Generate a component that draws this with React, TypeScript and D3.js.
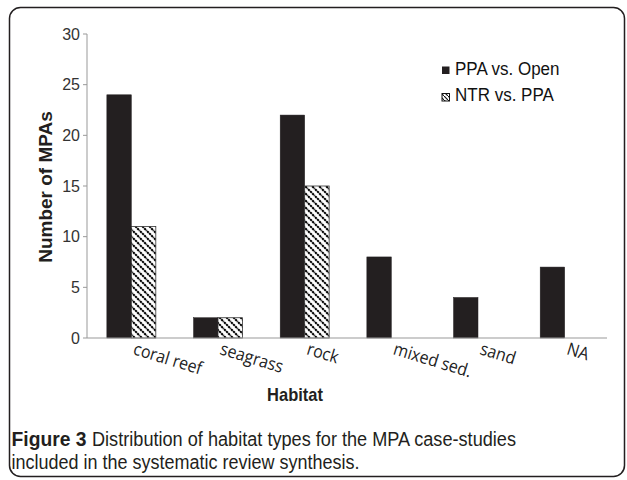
import React from "react";
import * as d3 from "d3";

const categories = ["coral reef", "seagrass", "rock", "mixed sed.", "sand", "NA"];
const ppaVsOpen = [24, 2, 22, 8, 4, 7];
const ntrVsPpa: (number | null)[] = [11, 2, 15, null, null, null];
const seriesNames = ["PPA vs. Open", "NTR vs. PPA"];
const yTicks = [0, 5, 10, 15, 20, 25, 30];

const W = 627;
const H = 480;
const plot = { left: 87, right: 607, top: 34, bottom: 338 };
const barColor = "#231f20";

export default function App() {
  const x = d3.scaleBand<string>().domain(categories).range([plot.left + 1, plot.right + 1]).padding(0);
  const inner = d3
    .scaleBand<string>()
    .domain(seriesNames)
    .range([0, x.bandwidth()])
    .paddingInner(0)
    .paddingOuter(0.77);
  const y = d3.scaleLinear().domain([0, 30]).range([plot.bottom, plot.top]);

  const bars: { key: string; x: number; y: number; w: number; h: number; hatched: boolean }[] = [];
  categories.forEach((c, i) => {
    const v1 = ppaVsOpen[i];
    const x0 = (x(c) ?? 0) + (inner(seriesNames[0]) ?? 0);
    bars.push({ key: c + "a", x: x0, y: y(v1), w: inner.bandwidth(), h: y(0) - y(v1), hatched: false });
    const v2 = ntrVsPpa[i];
    if (v2 != null) {
      const x1 = (x(c) ?? 0) + (inner(seriesNames[1]) ?? 0);
      bars.push({ key: c + "b", x: x1, y: y(v2), w: inner.bandwidth(), h: y(0) - y(v2), hatched: true });
    }
  });

  const capFont = "'Liberation Sans', Arial, sans-serif";

  return (
    <svg
      width={W}
      height={H}
      viewBox={`0 0 ${W} ${H}`}
      style={{ position: "absolute", left: 0, top: 0, background: "#fff" }}
    >
      <defs>
        <pattern id="hatch" patternUnits="userSpaceOnUse" width={7} height={7}>
          <rect width={7} height={7} fill="#fff" />
          <path d="M0,0 L7,7 M-2,5 L2,9 M5,-2 L9,2" stroke="#000" strokeWidth={2} strokeDasharray="2.4,0.6" />
        </pattern>
        <pattern id="hatchSmall" patternUnits="userSpaceOnUse" width={4} height={4}>
          <rect width={4} height={4} fill="#fff" />
          <path d="M0,0 L4,4" stroke="#111" strokeWidth={1.2} />
        </pattern>
      </defs>

      {/* frame */}
      <rect x={9.5} y={7.5} width={615} height={469} rx={11} ry={11} fill="none" stroke="#231f20" strokeWidth={1.5} />

      {/* y axis */}
      <line x1={plot.left} x2={plot.left} y1={plot.top} y2={plot.bottom} stroke="#999" strokeWidth={1} />
      {yTicks.map((t) => (
        <g key={t}>
          <line x1={plot.left - 4} x2={plot.left} y1={y(t)} y2={y(t)} stroke="#999" strokeWidth={1} />
          <text
            x={plot.left - 7}
            y={y(t)}
            dy="0.36em"
            textAnchor="end"
            fontFamily="'Liberation Sans', Arial, sans-serif"
            fontSize={16}
            fill="#333"
          >
            {t}
          </text>
        </g>
      ))}

      {/* bars */}
      {bars.map((b) => (
        <rect
          key={b.key}
          x={b.x}
          y={b.y}
          width={b.w}
          height={b.h}
          fill={b.hatched ? "url(#hatch)" : barColor}
          stroke={b.hatched ? "#333" : barColor}
          strokeWidth={b.hatched ? 0.8 : 0.5}
        />
      ))}

      {/* x axis */}
      <line x1={plot.left} x2={plot.right} y1={plot.bottom} y2={plot.bottom} stroke="#999" strokeWidth={1.2} />
      {categories.map((c) => {
        const cx = (x(c) ?? 0) + x.bandwidth() / 2;
        return (
          <text
            key={c}
            transform={`translate(${cx + 1},${plot.bottom + 16}) rotate(17) scale(1,1.1)`}
            fontFamily="'Open Sans', sans-serif"
            fontSize={16}
            fill="#222"
          >
            {c}
          </text>
        );
      })}

      {/* axis titles */}
      <text
        transform={`translate(52,${(plot.top + plot.bottom) / 2 + 1}) rotate(-90)`}
        textAnchor="middle"
        fontFamily="'Liberation Sans', Arial, sans-serif"
        fontWeight="bold"
        fontSize={19}
        fill="#231f20"
      >
        Number of MPAs
      </text>
      <text
        transform="translate(295,401) scale(1,1.15)"
        textAnchor="middle"
        fontFamily="'Liberation Sans', Arial, sans-serif"
        fontWeight="bold"
        fontSize={16.5}
        fill="#231f20"
      >
        Habitat
      </text>

      {/* legend */}
      <g fontFamily="'Liberation Sans', Arial, sans-serif" fontSize={17} fill="#111">
        <rect x={442} y={66.5} width={7.5} height={7.5} fill={barColor} />
        <text transform="translate(455,75) scale(1,1.05)">{seriesNames[0]}</text>
        <rect x={442} y={93.5} width={7.5} height={7.5} fill="url(#hatchSmall)" stroke="#111" strokeWidth={1} />
        <text transform="translate(455,101) scale(1,1.05)">{seriesNames[1]}</text>
      </g>

      {/* caption */}
      <g fontFamily={capFont} fontSize={19.5} fill="#231f20">
        <text x={11.5} y={445.5} fontWeight="bold" textLength={75} lengthAdjust="spacingAndGlyphs">
          Figure 3
        </text>
        <text x={92} y={445.5} textLength={424} lengthAdjust="spacingAndGlyphs">
          Distribution of habitat types for the MPA case-studies
        </text>
        <text x={11.5} y={468.5} textLength={348} lengthAdjust="spacingAndGlyphs">
          included in the systematic review synthesis.
        </text>
      </g>
    </svg>
  );
}
